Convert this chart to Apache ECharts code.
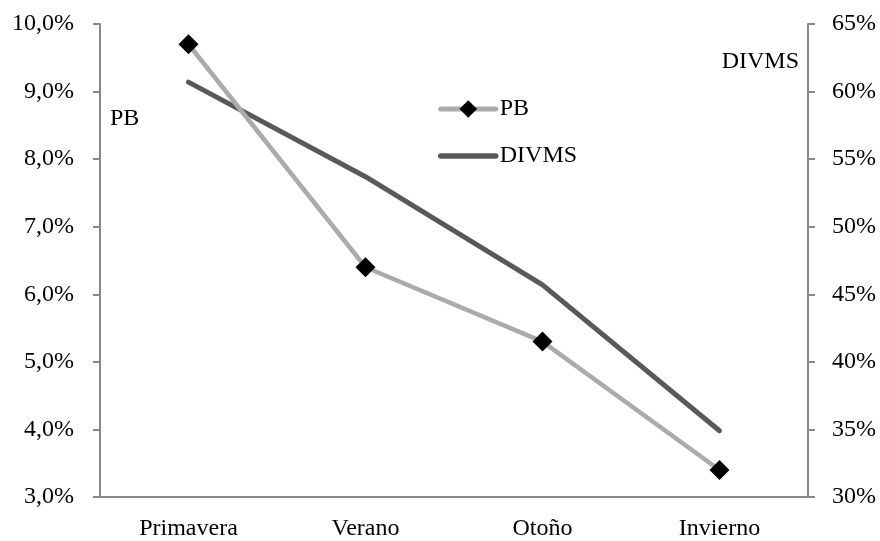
<!DOCTYPE html>
<html>
<head>
<meta charset="utf-8">
<script src="https://cdn.jsdelivr.net/npm/echarts@6/dist/echarts.min.js"></script>
<style>html,body{margin:0;padding:0;background:#fff}#chart{width:880px;height:541px}</style>
</head>
<body>
<div id="chart"></div>
<script>
const categories = ['Primavera', 'Verano', 'Otoño', 'Invierno'];
const pbValues = [9.7, 6.4, 5.3, 3.4];
const divmsValues = [60.7, 53.7, 45.7, 34.9];
const leftTicks = {min: 3, max: 10, interval: 1};
const rightTicks = {min: 30, max: 65, interval: 5};

const FONT = "'Liberation Serif', 'Times New Roman', serif";
const FS = 24;
const axisGray = '#888888';
const pbColor = '#ababab';
const divmsColor = '#595959';

const chart = echarts.init(document.getElementById('chart'), null, {renderer: 'canvas'});
chart.setOption({
  animation: false,
  backgroundColor: '#ffffff',
  textStyle: {fontFamily: FONT},
  grid: {left: 100, right: 72, top: 24, bottom: 44, containLabel: false},
  legend: {
    orient: 'vertical',
    left: 438,
    top: 97,
    padding: 0,
    itemWidth: 55,
    itemHeight: 22,
    itemGap: 23,
    textStyle: {fontFamily: FONT, fontSize: FS, color: '#000', padding: [0, 0, 0, -1]},
    data: [
      {name: 'PB', lineStyle: {color: pbColor, width: 5, cap: 'round'}, itemStyle: {color: '#000'}},
      {name: 'DIVMS', lineStyle: {color: divmsColor, width: 5.5, cap: 'round'}, itemStyle: {opacity: 0}}
    ]
  },
  xAxis: {
    type: 'category',
    data: categories,
    boundaryGap: true,
    axisLine: {lineStyle: {color: axisGray, width: 2}},
    axisTick: {show: false},
    axisLabel: {fontFamily: FONT, fontSize: FS, color: '#000', margin: 20}
  },
  yAxis: [
    {
      type: 'value',
      position: 'left',
      min: leftTicks.min, max: leftTicks.max, interval: leftTicks.interval,
      name: 'PB',
      nameLocation: 'end',
      nameGap: -95,
      nameTextStyle: {fontFamily: FONT, fontSize: FS, color: '#000', align: 'left', verticalAlign: 'middle', padding: [0, 0, 0, 10]},
      axisLine: {show: true, lineStyle: {color: axisGray, width: 2}},
      axisTick: {show: true, inside: false, length: 7, lineStyle: {color: axisGray, width: 2}},
      splitLine: {show: false},
      axisLabel: {fontFamily: FONT, fontSize: FS, color: '#000', margin: 26,
        formatter: v => v.toFixed(1).replace('.', ',') + '%'}
    },
    {
      type: 'value',
      position: 'right',
      min: rightTicks.min, max: rightTicks.max, interval: rightTicks.interval,
      name: 'DIVMS',
      nameLocation: 'end',
      nameGap: -38,
      nameTextStyle: {fontFamily: FONT, fontSize: FS, color: '#000', align: 'right', verticalAlign: 'middle', padding: [0, 9, 0, 0]},
      axisLine: {show: true, lineStyle: {color: axisGray, width: 2}},
      axisTick: {show: true, inside: false, length: 7, lineStyle: {color: axisGray, width: 2}},
      splitLine: {show: false},
      axisLabel: {fontFamily: FONT, fontSize: FS, color: '#000', margin: 24,
        formatter: v => v + '%'}
    }
  ],
  series: [
    {
      name: 'PB',
      type: 'line',
      yAxisIndex: 0,
      data: pbValues,
      symbol: 'diamond',
      symbolSize: 20,
      showSymbol: true,
      itemStyle: {color: '#000000'},
      lineStyle: {color: pbColor, width: 4.5, cap: 'round', join: 'round'},
      z: 3
    },
    {
      name: 'DIVMS',
      type: 'line',
      yAxisIndex: 1,
      data: divmsValues,
      symbol: 'none',
      showSymbol: false,
      itemStyle: {color: divmsColor},
      lineStyle: {color: divmsColor, width: 5, cap: 'round', join: 'round'},
      z: 2
    }
  ]
});
</script>
</body>
</html>
